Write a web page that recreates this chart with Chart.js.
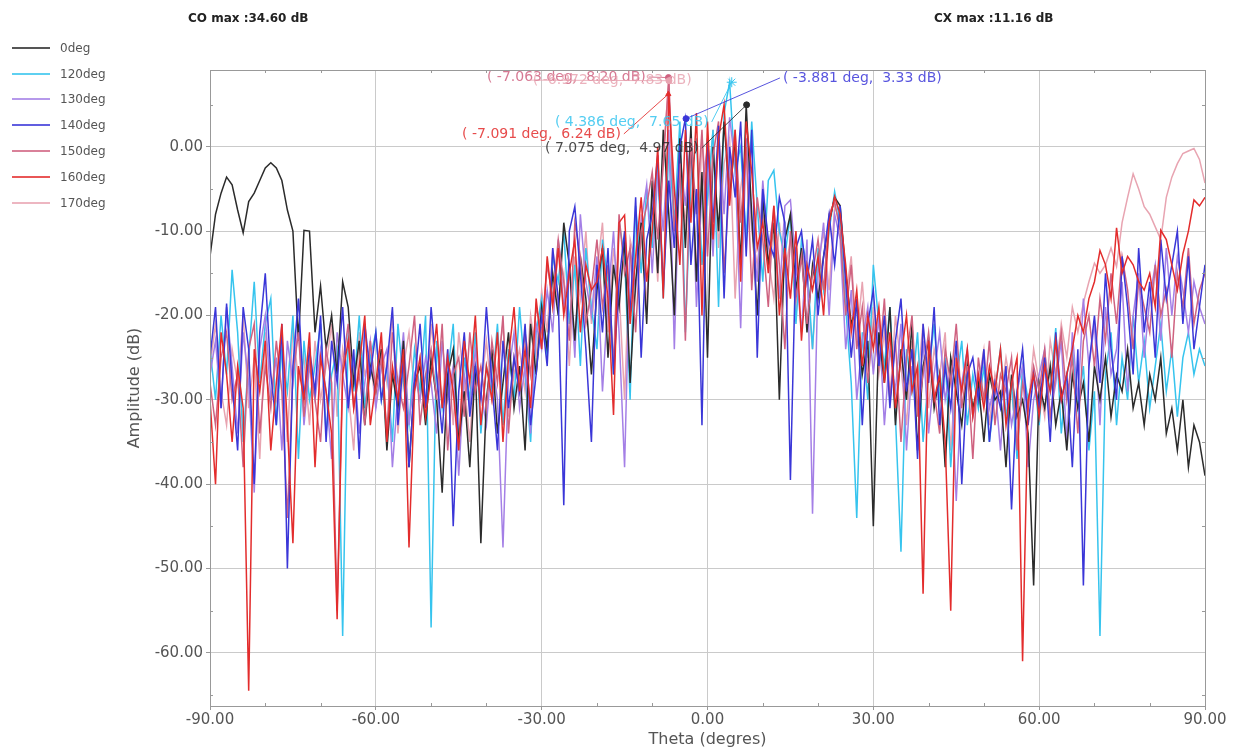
<!DOCTYPE html>
<html>
<head>
<meta charset="utf-8">
<title>Theta cut</title>
<script src="https://cdn.jsdelivr.net/npm/chart.js@4.4.1/dist/chart.umd.min.js"></script>
<style>
  body { margin: 0; background: #fff; font-family: "DejaVu Sans", sans-serif; }
  #wrap { position: relative; width: 1235px; height: 753px; }
  #pattern { position: absolute; left: 0; top: 0; }
  .maxText { position: absolute; top: 11px; font-size: 12px; line-height: 14px; font-weight: bold; color: #222; }
  #legend { position: absolute; left: 12px; top: 35px; font-size: 12px; color: #555; }
  #legend .row { height: 25.8px; display: flex; align-items: center; }
  #legend .line { width: 38px; height: 2px; margin-right: 10px; opacity: 0.8; }
</style>
</head>
<body>
<div id="wrap">
  <canvas id="pattern" width="1235" height="753"></canvas>
  <div class="maxText" style="left:188px">CO max :34.60 dB</div>
  <div class="maxText" style="left:934px">CX max :11.16 dB</div>
  <div id="legend"></div>
</div>
<script>
// sample angles, one per degree
const thetaDeg = [
  -90, -89, -88, -87, -86, -85, -84, -83, -82, -81,
  -80, -79, -78, -77, -76, -75, -74, -73, -72, -71,
  -70, -69, -68, -67, -66, -65, -64, -63, -62, -61,
  -60, -59, -58, -57, -56, -55, -54, -53, -52, -51,
  -50, -49, -48, -47, -46, -45, -44, -43, -42, -41,
  -40, -39, -38, -37, -36, -35, -34, -33, -32, -31,
  -30, -29, -28, -27, -26, -25, -24, -23, -22, -21,
  -20, -19, -18, -17, -16, -15, -14, -13, -12, -11,
  -10, -9, -8, -7, -6, -5, -4, -3, -2, -1,
  0, 1, 2, 3, 4, 5, 6, 7, 8, 9,
  10, 11, 12, 13, 14, 15, 16, 17, 18, 19,
  20, 21, 22, 23, 24, 25, 26, 27, 28, 29,
  30, 31, 32, 33, 34, 35, 36, 37, 38, 39,
  40, 41, 42, 43, 44, 45, 46, 47, 48, 49,
  50, 51, 52, 53, 54, 55, 56, 57, 58, 59,
  60, 61, 62, 63, 64, 65, 66, 67, 68, 69,
  70, 71, 72, 73, 74, 75, 76, 77, 78, 79,
  80, 81, 82, 83, 84, 85, 86, 87, 88, 89,
  90
];

const amp0deg = [
  -13, -8, -5.5, -3.6, -4.5, -7.5, -10.2, -6.5, -5.5, -4,
  -2.5, -1.9, -2.5, -4, -7.5, -10, -23, -9.9, -10, -22,
  -16.5, -24, -20, -27, -16, -19, -28, -23, -33, -26,
  -29, -24, -36, -27, -31, -23, -38, -28, -26, -33,
  -25, -30, -41, -27, -24, -35, -29, -38, -26, -47,
  -30, -24, -34, -28, -22, -31, -26, -36, -21, -27,
  -19, -24, -15, -20, -9, -14, -23, -13, -18, -27,
  -17, -12, -25, -14, -19, -11, -28, -16, -9, -21,
  -4, -15, 2, -8, -20, 1, -12, 2.5, -16, -3,
  -25, 0, -10, 3, -6, 1, -14, 4.97, -8, -20,
  -6, -14, -9, -30, -11, -8, -17, -12, -22, -14,
  -18, -13, -9, -6, -7, -15, -21, -19, -27, -23,
  -45, -22, -28, -19, -33, -24, -30, -21, -36, -26,
  -23, -31, -27, -38, -25, -29, -33, -26, -31, -28,
  -35, -27, -30, -29, -38, -27, -32, -30, -34, -52,
  -28, -31, -26, -33, -29, -36, -27, -31, -28, -35,
  -26, -30, -25, -32, -27, -29, -24, -31, -28, -33,
  -27, -30, -25, -34, -31, -36, -30, -38, -33, -35,
  -39
];

const amp120deg = [
  -24, -30, -20, -27, -14.6, -22, -35, -25, -16, -28,
  -21, -18, -33, -24, -29, -20, -37, -23, -30, -26,
  -21, -34, -27, -24, -58, -22, -29, -20, -31, -25,
  -22, -30, -26, -35, -21, -28, -33, -24, -29, -20,
  -57, -23, -31, -27, -21, -36, -25, -30, -22, -34,
  -26, -29, -21, -33, -24, -30, -19, -27, -35, -22,
  -18, -25, -13, -16, -10, -21, -14, -26, -12, -19,
  -24, -11, -16, -27, -9, -13, -30, -7, -15, -5,
  -12, -2, -18, 0, -9, 3, -22, -4, 1, -14,
  -6, 2, -19, 4, 7.65, -3, 0, -11, 3, -7,
  -16, -4, -2.8, -10, -13, -8, -21, -11, -14, -24,
  -12, -17, -10, -5.3, -9, -19, -28, -44, -22, -30,
  -14, -21, -26, -19, -32, -48, -24, -29, -22, -35,
  -27, -21, -30, -25, -38, -28, -23, -33, -27, -31,
  -26, -35, -29, -24, -32, -28, -37, -26, -30, -27,
  -33, -25, -29, -21.5, -34, -27, -24, -31, -26, -36,
  -29, -58, -27, -22, -33, -25, -30, -20, -28, -23,
  -31, -26, -21, -29, -24, -32, -25, -22, -27, -24,
  -26
];

const amp130deg = [
  -27, -23, -31, -19, -26, -34, -22, -28, -41, -24,
  -20, -30, -25, -36, -23, -28, -21, -33, -26, -30,
  -24, -29, -37, -22, -27, -31, -25, -34, -28, -23,
  -31, -26, -24, -38, -29, -22, -33, -27, -30, -25,
  -28, -34, -23, -30, -26, -39, -27, -31, -24, -29,
  -33, -25, -30, -47.5, -27, -22, -31, -26, -34, -21,
  -24, -17, -22, -11, -19, -14, -25, -8, -16, -20,
  -13, -29, -18, -10, -22, -38, -12, -17, -9, -4.5,
  -15, -3, -10, 2, -24, -1, -7, 1.5, -19, -5,
  0, -13, 2, -8, 3.5, -2, -21.5, 1, -9, -16,
  -4, -12, -8, -18, -7, -6.3, -14, -22, -11, -43.5,
  -15, -9, -20, -8, -11, -24, -17, -30, -23, -19,
  -27, -20, -33, -24, -29, -21, -36, -26, -31, -23,
  -34, -27, -22, -30, -26, -42, -28, -24, -32, -29,
  -25, -31, -28, -36, -27, -33, -29, -26, -38, -30,
  -27, -24, -32, -28, -23, -35, -22, -30, -18, -26,
  -21, -33, -19, -27, -24, -16, -29, -20, -15, -25,
  -18, -14, -23, -12, -20, -13, -17, -22, -16, -19,
  -21
];

const amp140deg = [
  -25, -19, -31, -18.6, -28, -36, -19, -24, -40, -22,
  -15, -27, -33, -21, -50, -26, -18, -30, -24, -29,
  -20, -35, -23, -28, -19, -31, -24, -37, -21, -27,
  -22, -30, -26, -19, -33, -25, -38, -28, -21, -31,
  -19, -27, -34, -24, -45, -29, -22, -32, -26, -30,
  -19, -28, -36, -23, -31, -25, -29, -21, -33, -27,
  -20, -26, -12, -18, -42.5, -10, -7.1, -15, -24, -35,
  -14, -22, -12, -27, -16, -10, -20, -6, -25, -11,
  -8, -1, -17, -4, -12, 0, 3.33, -14, -5, -33,
  1, -9, 2.5, -18, 0, -6, 3, -13, 2, -25,
  -5, -11, -13, -6, -9, -39.5, -12, -10, -16, -11,
  -20, -13, -8, -14, -7, -16, -25, -18, -33, -21,
  -17, -26, -20, -31, -23, -18, -29, -24, -37, -21,
  -28, -19, -33, -26, -31, -23, -40, -27, -25, -30,
  -24, -35, -28, -31, -26, -43, -29, -24, -33, -27,
  -31, -25, -35, -22, -30, -27, -38, -24, -52, -26,
  -20, -28, -15, -24, -30, -13, -19, -27, -12, -22,
  -16, -25, -11, -18, -14, -10, -21, -13, -24, -19,
  -14
];

const amp150deg = [
  -28, -33, -25, -22, -30, -27, -38, -24, -21, -34,
  -26, -31, -23, -29, -44, -27, -22, -32, -25, -30,
  -35, -24, -28, -55, -26, -21, -31, -27, -33, -23,
  -29, -25, -34, -22, -28, -31, -26, -20, -33, -27,
  -24, -30, -21, -36, -27, -25, -32, -22, -29, -26,
  -31, -23, -28, -20, -34, -25, -29, -22, -27, -19,
  -22, -14, -18, -11, -16, -23, -9, -13, -21, -17,
  -11, -19, -14, -26, -8, -15, -12, -22, -10, -7,
  -3, -11, -2, 8.2, -10, -2, -23, 1, -8, 2,
  -13, -1, 3, -15, -4, 2, -9, 0, -17, -6,
  -11, -19, -7, -14, -24, -10, -18, -13, -21, -15,
  -11, -17, -8, -6.5, -10, -20, -14, -24, -19, -28,
  -21, -26, -18, -30, -23, -35, -25, -20, -32, -27,
  -22, -29, -34, -24, -28, -21, -31, -26, -37, -25,
  -30, -23, -33, -27, -29, -25, -36, -28, -31, -26,
  -29, -24, -32, -27, -22, -30, -25, -34, -23, -20,
  -26, -18, -23, -15, -21, -13, -17, -24, -16, -19,
  -22, -14, -20, -17, -25, -15, -19, -12, -21, -17,
  -15
];

const amp160deg = [
  -30, -40, -22, -27, -35, -26, -31, -64.5, -24, -29,
  -23, -36, -28, -21, -33, -47, -26, -30, -22, -38,
  -25, -29, -34, -56, -27, -23, -31, -26, -20, -33,
  -28, -22, -35, -26, -30, -24, -47.5, -29, -25, -32,
  -27, -21, -31, -25, -29, -36, -23, -28, -20, -33,
  -26, -30, -22, -35, -25, -19, -29, -24, -31, -18,
  -24, -13, -19, -12, -20, -15, -11, -22, -14, -17,
  -16, -12, -18, -31.8, -9, -8.1, -21, -13, -6, -16,
  -10, 0, -18, 6.24, -5, -14, 2, -9, 4, -20,
  3, -11, 1, 5, -7, 2, -16, 3, -3, -12,
  -9, -15, -7, -20, -12, -18, -10, -23, -14, -17,
  -13, -20, -9, -5.9, -8, -14, -22, -17, -26, -20,
  -24, -19, -28, -22, -31, -25, -20, -29, -26, -53,
  -23, -30, -27, -35, -55, -25, -29, -24, -32, -27,
  -31, -26, -29, -24, -33, -28, -25, -61, -30, -27,
  -32, -26, -29, -23, -30, -27, -24, -20, -22, -18,
  -16, -12.3, -14, -18, -9.6, -15, -13, -14, -16, -17,
  -15, -19, -9.9, -11, -14, -17, -12.7, -10, -6.3, -7,
  -6
];

const amp170deg = [
  -26, -21, -29, -33, -24, -28, -20, -31, -25, -37,
  -22, -27, -30, -24, -35, -21, -28, -25, -33, -23,
  -30, -26, -21, -32, -24, -29, -36, -22, -27, -25,
  -31, -23, -28, -20, -34, -26, -22, -29, -25, -32,
  -21, -27, -30, -24, -33, -22, -28, -35, -25, -29,
  -23, -30, -26, -21, -32, -27, -24, -29, -20, -25,
  -17, -22, -12, -19, -15, -26, -13, -18, -10, -21,
  -15, -9, -22, -12, -17, -30, -11, -14, -8, -19,
  -5, -16, -1, 7.83, -12, -4, -9, 0, -15, 1,
  -7, 2, -12, -2, 1, -18, -5, 0, -10, -14,
  -8, -13, -18, -9, -15, -11, -20, -12, -16, -24,
  -14, -10, -17, -7, -9, -18, -13, -23, -16, -25,
  -19, -27, -22, -30, -20, -26, -33, -23, -28, -21,
  -31, -24, -27, -22, -36, -26, -29, -25, -32, -28,
  -24, -33, -27, -30, -25, -29, -35, -27, -31, -24,
  -28, -32, -23, -27, -21, -25, -19, -22, -18.5, -16,
  -13.8, -15, -14, -12, -14.2, -9, -6, -3.2, -5, -7.1,
  -8, -9.5, -11, -6, -3.6, -2, -0.8, -0.5, -0.2, -1.5,
  -4.3
];

const seriesNames = ['0deg', '120deg', '130deg', '140deg', '150deg', '160deg', '170deg'];
const ampSeries = [amp0deg, amp120deg, amp130deg, amp140deg, amp150deg, amp160deg, amp170deg];
const seriesColors = ['#2b2b2b', '#36c4ee', '#a47fe6', '#3a36d8', '#cf6280', '#e32c2c', '#e8a4b1'];
const drawOrder = [3, 5, 4, 1, 2, 0, 6];

const thetaTicks = [-90, -60, -30, 0, 30, 60, 90];
const ampTicks = [0, -10, -20, -30, -40, -50, -60];
const minorThetaTicks = [-80, -70, -50, -40, -20, -10, 10, 20, 40, 50, 70, 80];
const minorAmpTicks = [5, -5, -15, -25, -35, -45, -55, -65];

// peak markers
const markerSeries = ['150deg', '170deg', '160deg', '120deg', '0deg', '140deg'];
const markerTheta = [-7.063, -6.972, -7.091, 4.386, 7.075, -3.881];
const markerAmp = [8.20, 7.83, 6.24, 7.65, 4.97, 3.33];

// legend
const legendBox = document.getElementById('legend');
seriesNames.forEach((name, i) => {
  const row = document.createElement('div');
  row.className = 'row';
  row.innerHTML = '<span class="line" style="background:' + seriesColors[i] + '"></span><span>' + name + '</span>';
  legendBox.appendChild(row);
});

const frameTicks = {
  id: 'frameTicks',
  afterDraw(chart) {
    const { ctx, chartArea: a, scales: { x, y } } = chart;
    ctx.save();
    ctx.strokeStyle = '#999';
    ctx.lineWidth = 1;
    ctx.strokeRect(a.left + 0.5, a.top + 0.5, a.right - a.left, a.bottom - a.top);
    ctx.beginPath();
    minorThetaTicks.forEach(v => {
      const px = Math.round(x.getPixelForValue(v)) + 0.5;
      ctx.moveTo(px, a.top); ctx.lineTo(px, a.top + 3);
      ctx.moveTo(px, a.bottom); ctx.lineTo(px, a.bottom - 3);
    });
    minorAmpTicks.forEach(v => {
      const py = Math.round(y.getPixelForValue(v)) + 0.5;
      if (py < a.top || py > a.bottom) return;
      ctx.moveTo(a.left, py); ctx.lineTo(a.left + 3, py);
      ctx.moveTo(a.right, py); ctx.lineTo(a.right - 3, py);
    });
    ctx.stroke();
    ctx.restore();
  }
};

const peakLabels = {
  id: 'peakLabels',
  afterDatasetsDraw(chart, args, opts) {
    const { ctx, scales: { x, y } } = chart;
    ctx.save();
    ctx.font = '14px "DejaVu Sans"';
    ctx.textBaseline = 'middle';
    markerSeries.forEach((name, i) => {
      const color = seriesColors[seriesNames.indexOf(name)];
      const mx = x.getPixelForValue(markerTheta[i]);
      const my = y.getPixelForValue(markerAmp[i]);
      const lx = x.getPixelForValue(opts.labelTheta[i]);
      const ly = y.getPixelForValue(opts.labelAmp[i]);
      const text = '( ' + markerTheta[i].toFixed(3) + ' deg,  ' + markerAmp[i].toFixed(2) + ' dB)';
      const w = ctx.measureText(text).width;
      const sx = lx + w < mx ? lx + w + 3 : lx - 3;
      ctx.globalAlpha = 0.85;
      ctx.strokeStyle = color;
      ctx.fillStyle = color;
      ctx.lineWidth = 1;
      ctx.beginPath();
      ctx.moveTo(sx, ly);
      ctx.lineTo(mx, my);
      ctx.stroke();
      ctx.fillText(text, lx, ly);
      ctx.globalAlpha = 1;
      Chart.helpers.drawPoint(ctx, { pointStyle: opts.shapes[i], radius: opts.shapes[i] === 'star' ? 5 : 3, rotation: 0, borderWidth: 1.5 }, mx, my);
    });
    ctx.restore();
  }
};

const tickFont = { family: 'DejaVu Sans', size: 15 };
const titleFont = { family: 'DejaVu Sans', size: 16 };

new Chart(document.getElementById('pattern'), {
  type: 'line',
  data: {
    datasets: seriesNames.map((name, i) => ({
      label: name,
      data: thetaDeg.map((t, k) => ({ x: t, y: ampSeries[i][k] })),
      borderColor: seriesColors[i],
      borderWidth: 1.5,
      pointRadius: 0,
      tension: 0,
      order: drawOrder[i]
    }))
  },
  options: {
    responsive: false,
    animation: false,
    layout: { padding: { left: 121, right: 30, top: 70, bottom: 0 } },
    plugins: {
      legend: { display: false },
      tooltip: { enabled: false },
      peakLabels: {
        labelTheta: [-39.9, -31.6, -44.4, -27.6, -29.4, 13.65],
        labelAmp: [8.27, 7.9, 1.52, 2.94, -0.14, 8.16],
        shapes: ['circle', 'circle', 'triangle', 'star', 'circle', 'circle']
      }
    },
    scales: {
      x: {
        type: 'linear',
        min: -90,
        max: 90,
        afterBuildTicks: s => { s.ticks = thetaTicks.map(v => ({ value: v })); },
        afterFit: s => { s.height = 47; },
        ticks: { autoSkip: false, maxRotation: 0, padding: 1, color: '#555', font: tickFont, callback: v => v.toFixed(2) },
        grid: { color: '#cacaca', tickLength: 4, tickColor: '#999' },
        border: { color: '#999' },
        title: { display: true, text: 'Theta (degres)', color: '#555', font: titleFont }
      },
      y: {
        min: -66.3,
        max: 9.1,
        afterBuildTicks: s => { s.ticks = ampTicks.map(v => ({ value: v })); },
        afterFit: s => { s.width = 89; },
        ticks: { autoSkip: false, padding: 3, color: '#555', font: tickFont, callback: v => v.toFixed(2) },
        grid: { color: '#cacaca', tickLength: 4, tickColor: '#999' },
        border: { color: '#999' },
        title: { display: true, text: 'Amplitude (dB)', color: '#555', font: titleFont }
      }
    }
  },
  plugins: [frameTicks, peakLabels]
});
</script>
</body>
</html>
